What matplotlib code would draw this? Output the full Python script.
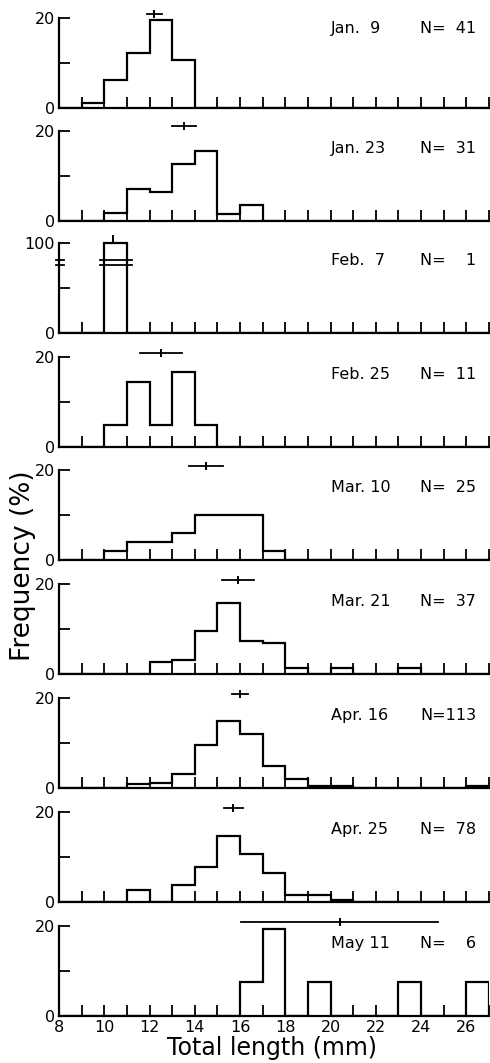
import numpy as np
import matplotlib
matplotlib.use("Agg")
import matplotlib.pyplot as plt

# 1-mm length classes, 8-9 ... 26-27 mm
EDGES = np.arange(8, 28)
DATES = ["Jan.  9", "Jan. 23", "Feb.  7", "Feb. 25", "Mar. 10",
         "Mar. 21", "Apr. 16", "Apr. 25", "May 11"]
N = [41, 31, 1, 11, 25, 37, 113, 78, 6]

# frequency (%) per class
JAN09 = [0, 1.1, 6.3, 12.3, 19.6, 10.6, 0, 0, 0, 0, 0, 0, 0, 0, 0, 0, 0, 0, 0]
JAN23 = [0, 0, 1.8, 7.0, 6.5, 12.6, 15.6, 1.5, 3.5, 0, 0, 0, 0, 0, 0, 0, 0, 0, 0]
FEB07 = [0, 0, 100, 0, 0, 0, 0, 0, 0, 0, 0, 0, 0, 0, 0, 0, 0, 0, 0]
FEB25 = [0, 0, 5.0, 14.5, 5.0, 16.6, 5.0, 0, 0, 0, 0, 0, 0, 0, 0, 0, 0, 0, 0]
MAR10 = [0, 0, 2.1, 4.0, 4.0, 6.1, 10, 10, 10, 2.0, 0, 0, 0, 0, 0, 0, 0, 0, 0]
MAR21 = [0, 0, 0, 0, 2.6, 3.1, 9.6, 15.8, 7.4, 6.9, 1.4, 0, 1.4, 0, 0, 1.4, 0, 0, 0]
APR16 = [0, 0, 0, 0.8, 1.2, 3.1, 9.6, 14.9, 12.0, 4.9, 2.0, 0.4, 0.4, 0, 0, 0, 0, 0, 0.4]
APR25 = [0, 0, 0, 2.7, 0, 3.8, 7.8, 14.7, 10.6, 6.5, 1.6, 1.6, 0.5, 0, 0, 0, 0, 0, 0]
MAY11 = [0, 0, 0, 0, 0, 0, 0, 0, 7.5, 19.3, 0, 7.5, 0, 0, 0, 7.5, 0, 0, 7.5]
FREQS = [JAN09, JAN23, FEB07, FEB25, MAR10, MAR21, APR16, APR25, MAY11]

# mean total length and half-width of the range bar (mm)
MEANS = [12.2, 13.5, 10.4, 12.5, 14.5, 15.9, 16.0, 15.7, 20.4]
HALF = [0.33, 0.53, 0.0, 0.93, 0.75, 0.72, 0.37, 0.43, 4.35]

W, H = 490, 1063
fig = plt.figure(figsize=(W / 100, H / 100), dpi=100)
plt.rcParams["font.family"] = ["DejaVu Sans"]

base_px = [108, 221, 333, 447, 560, 674, 788, 902, 1016]
left, width = 59.2 / W, 429.6 / W
ax_h = 108 / H
LW = 1.6
FIG_SP = "\u2007"  # figure space, same width as a digit

for i, (date, n, freq, m, hw) in enumerate(zip(DATES, N, FREQS, MEANS, HALF)):
    ax = fig.add_axes([left, 1 - base_px[i] / H, width, ax_h])
    big = (i == 2)
    top = 100 if big else 20
    ax.stairs(freq, EDGES, baseline=0, color="black", lw=LW)
    ax.set_xlim(8, 27)
    ax.set_ylim(0, top * 1.2)

    for s in ("top", "right"):
        ax.spines[s].set_visible(False)
    for s in ("left", "bottom"):
        ax.spines[s].set_linewidth(LW)
    ax.spines["left"].set_bounds(0, top)

    ax.set_xticks(EDGES)
    ax.set_yticks([0, top / 2, top])
    ax.set_yticklabels(["0", "", str(top)])
    ax.tick_params(axis="both", direction="in", length=8, width=1.3,
                   labelsize=11.5, pad=3)
    if i == len(DATES) - 1:
        ax.set_xticklabels([str(v) if v % 2 == 0 and v < 27 else ""
                            for v in EDGES])
    else:
        ax.set_xticklabels([])

    # mean and range bar
    tr = ax.get_xaxis_transform()
    ym = 0.875
    if hw > 0:
        ax.plot([m - hw, m + hw], [ym, ym], color="black", lw=1.3,
                transform=tr, clip_on=False)
    ax.plot([m], [ym], marker="|", ms=6, mew=1.4, color="black",
            transform=tr, clip_on=False)

    ty = 0.74 if i == 0 else 0.667
    ax.text(20, ty, date, transform=tr, ha="left", va="center", fontsize=11.5)
    ax.text(26.45, ty, "N=" + str(n).rjust(3, FIG_SP), transform=tr,
            ha="right", va="center", fontsize=11.5)

    if big:
        # axis break marks on the spine and across the bar
        for yb in (76, 81):
            ax.plot([7.88, 8.2], [yb, yb], color="black", lw=1.3,
                    clip_on=False)
            ax.plot([9.8, 11.2], [yb, yb], color="black", lw=1.3,
                    clip_on=False)

fig.text(23 / W, 1 - 566 / H, "Frequency (%)", rotation=90,
         ha="center", va="center", fontsize=19)
fig.text(272 / W, 1 - 1048 / H, "Total length (mm)",
         ha="center", va="center", fontsize=17)

fig.savefig("out.png", dpi=100)
